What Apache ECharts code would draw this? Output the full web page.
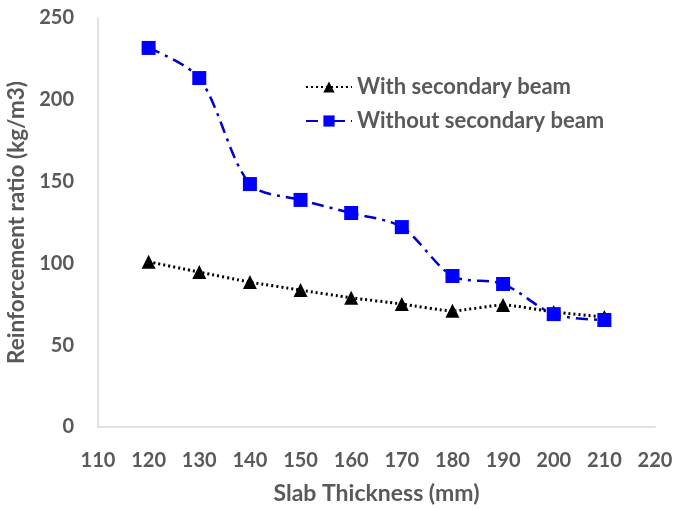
<!DOCTYPE html>
<html><head><meta charset="utf-8">
<script src="https://cdn.jsdelivr.net/npm/echarts@6/dist/echarts.min.js"></script>
<style>html,body{margin:0;padding:0;background:#fff}#c{width:685px;height:510px}</style>
</head><body><div id="c"></div>
<script>
var thickness = [120,130,140,150,160,170,180,190,200,210];
var withBeam = [101,94.7,88.6,83.7,79,75.2,71,74.6,70.3,67.2];
var withoutBeam = [231.7,213.3,148.5,138.8,130.8,122.2,92.3,87.4,69,65.4];
var seriesNames = ['With secondary beam','Without secondary beam'];
var xTicks = {min:110,max:220,interval:10};
var yTicks = {min:0,max:250,interval:50};
function pairs(xs, ys){return xs.map(function(x,i){return [x, ys[i]];});}
var font = 'Lato, "Open Sans", sans-serif';
var chart = echarts.init(document.getElementById('c'));
chart.setOption({
  animation:false,
  backgroundColor:'#fff',
  grid:{left:98,right:30,top:18,bottom:83,outerBoundsMode:'none',containLabel:false},
  legend:{
    orient:'vertical', left:300, top:71, itemGap:12, itemWidth:46, itemHeight:14,
    textStyle:{color:'#595959',fontSize:22,fontWeight:'bold',fontFamily:font},
    data:seriesNames
  },
  xAxis:{
    type:'value', min:xTicks.min, max:xTicks.max, interval:xTicks.interval,
    name:'Slab Thickness (mm)', nameLocation:'middle', nameGap:55,
    nameTextStyle:{color:'#595959',fontSize:23,fontWeight:'bold',fontFamily:font},
    axisLine:{show:true,lineStyle:{color:'#d9d9d9',width:1.5}},
    axisTick:{show:false}, splitLine:{show:false},
    axisLabel:{color:'#595959',fontSize:20,fontWeight:'bold',fontFamily:font,margin:24}
  },
  yAxis:{
    type:'value', min:yTicks.min, max:yTicks.max, interval:yTicks.interval,
    name:'Reinforcement ratio (kg/m3)', nameLocation:'middle', nameGap:66,
    nameTextStyle:{color:'#595959',fontSize:22.5,fontWeight:'bold',fontFamily:font},
    axisLine:{show:true,lineStyle:{color:'#d9d9d9',width:1.5}},
    axisTick:{show:false}, splitLine:{show:false},
    axisLabel:{color:'#595959',fontSize:20,fontWeight:'bold',fontFamily:font,margin:24}
  },
  series:[
    {name:seriesNames[0], type:'line', data:pairs(thickness,withBeam),
     symbol:'triangle', symbolSize:14, smooth:0.2,
     itemStyle:{color:'#000'},
     lineStyle:{color:'#000',width:3,type:[2,3]}},
    {name:seriesNames[1], type:'line', data:pairs(thickness,withoutBeam),
     symbol:'rect', symbolSize:14, smooth:0.3,
     itemStyle:{color:'#0000ff'},
     lineStyle:{color:'#0000cc',width:2.5,type:[12,6,3,6]}}
  ]
});
</script></body></html>
